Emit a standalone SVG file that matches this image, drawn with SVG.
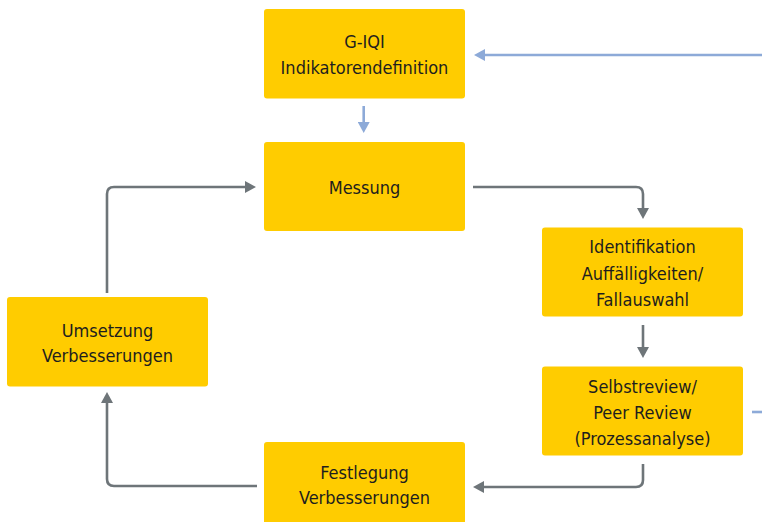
<svg xmlns="http://www.w3.org/2000/svg" width="762" height="522" viewBox="0 0 762 522">
<style>
.box{fill:#FFCC00}
.t{font-family:"Liberation Sans Narrow","DejaVu Sans Condensed","Liberation Sans",sans-serif;font-size:18px;fill:#1e1e1e;text-anchor:middle}
.g{fill:none;stroke:#6E7579;stroke-width:2.6}
.b{fill:none;stroke:#8DAAD8;stroke-width:2.6}
</style>
<defs>
<marker id="ag" markerUnits="userSpaceOnUse" markerWidth="12" markerHeight="12" refX="6" refY="6" orient="auto"><path d="M0,0 L11,6 L0,12 z" fill="#6E7579"/></marker>
<marker id="ab" markerUnits="userSpaceOnUse" markerWidth="12" markerHeight="12" refX="6" refY="6" orient="auto"><path d="M0,0 L11,6 L0,12 z" fill="#8DAAD8"/></marker>
</defs>
<rect width="762" height="522" fill="#fff"/>
<g id="connectors">
<path class="b" d="M762,55 H479" marker-end="url(#ab)"/>
<path class="b" d="M363.7,106 V128" marker-end="url(#ab)"/>
<path class="g" d="M473,187 H636 Q643,187 643,194 V214" marker-end="url(#ag)"/>
<path class="g" d="M643,325 V353" marker-end="url(#ag)"/>
<path class="g" d="M643,464 V480 Q643,487 636,487 H478" marker-end="url(#ag)"/>
<path class="g" d="M257,486 H114 Q107,486 107,479 V397" marker-end="url(#ag)"/>
<path class="g" d="M107,293 V194 Q107,187 114,187 H251" marker-end="url(#ag)"/>
<path class="b" d="M752,412 H762"/>
</g>
<g id="giqi">
<rect class="box" x="264" y="9" width="201" height="89.5" rx="3"/>
<text class="t" x="364.5" y="48">G-IQI</text>
<text class="t" x="364.5" y="74">Indikatorendefinition</text>
</g>
<g id="messung">
<rect class="box" x="264" y="142" width="201" height="89" rx="3"/>
<text class="t" x="364.5" y="194">Messung</text>
</g>
<g id="identifikation">
<rect class="box" x="542" y="227.5" width="201" height="89" rx="3"/>
<text class="t" x="642.5" y="253">Identifikation</text>
<text class="t" x="642.5" y="279.5">Auffälligkeiten/</text>
<text class="t" x="642.5" y="306">Fallauswahl</text>
</g>
<g id="selbstreview">
<rect class="box" x="542" y="366.5" width="201" height="89" rx="3"/>
<text class="t" x="642.5" y="393">Selbstreview/</text>
<text class="t" x="642.5" y="419">Peer Review</text>
<text class="t" x="642.5" y="445">(Prozessanalyse)</text>
</g>
<g id="festlegung">
<rect class="box" x="264" y="442" width="201" height="89" rx="3"/>
<text class="t" x="364.5" y="478.5">Festlegung</text>
<text class="t" x="364.5" y="503.5">Verbesserungen</text>
</g>
<g id="umsetzung">
<rect class="box" x="7" y="297" width="201" height="89.5" rx="3"/>
<text class="t" x="107.5" y="336.5">Umsetzung</text>
<text class="t" x="107.5" y="362">Verbesserungen</text>
</g>
</svg>
